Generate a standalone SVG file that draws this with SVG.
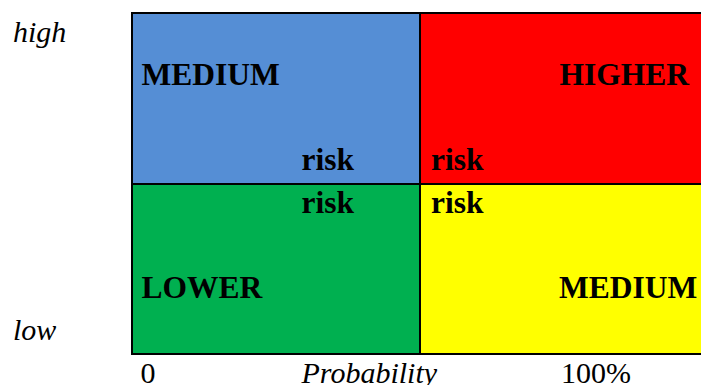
<svg xmlns="http://www.w3.org/2000/svg" width="701" height="385" viewBox="0 0 701 385">
<style>
.q{stroke:#000;stroke-width:2}
.b{font-family:"Liberation Serif","Times New Roman",serif;font-weight:bold;font-size:31.5px;fill:#000}
.ax{font-family:"Liberation Serif","Times New Roman",serif;font-size:30px;fill:#000}
.it{font-style:italic}
</style>
<rect width="701" height="385" fill="#fff"/>
<g id="q-medium-top">
<rect class="q" x="132" y="13" width="288" height="171" fill="#558ED5"/>
<text class="b" x="141.5" y="85">MEDIUM</text>
<text class="b" x="301.5" y="170">risk</text>
</g>
<g id="q-higher">
<rect class="q" x="420" y="13" width="283" height="171" fill="#FF0000"/>
<text class="b" x="689" y="85" text-anchor="end">HIGHER</text>
<text class="b" x="431" y="170">risk</text>
</g>
<g id="q-lower">
<rect class="q" x="132" y="184" width="288" height="170" fill="#00B050"/>
<text class="b" x="301.5" y="213">risk</text>
<text class="b" x="141.5" y="298">LOWER</text>
</g>
<g id="q-medium-bottom">
<rect class="q" x="420" y="184" width="283" height="170" fill="#FFFF00"/>
<text class="b" x="431" y="213">risk</text>
<text class="b" x="559" y="298">MEDIUM</text>
</g>
<g id="axes">
<text class="ax it" x="13" y="42">high</text>
<text class="ax it" x="13" y="340">low</text>
<text class="ax" x="140.5" y="383">0</text>
<text class="ax it" x="301.5" y="383">Probability</text>
<text class="ax" x="561" y="383">100%</text>
</g>
</svg>
